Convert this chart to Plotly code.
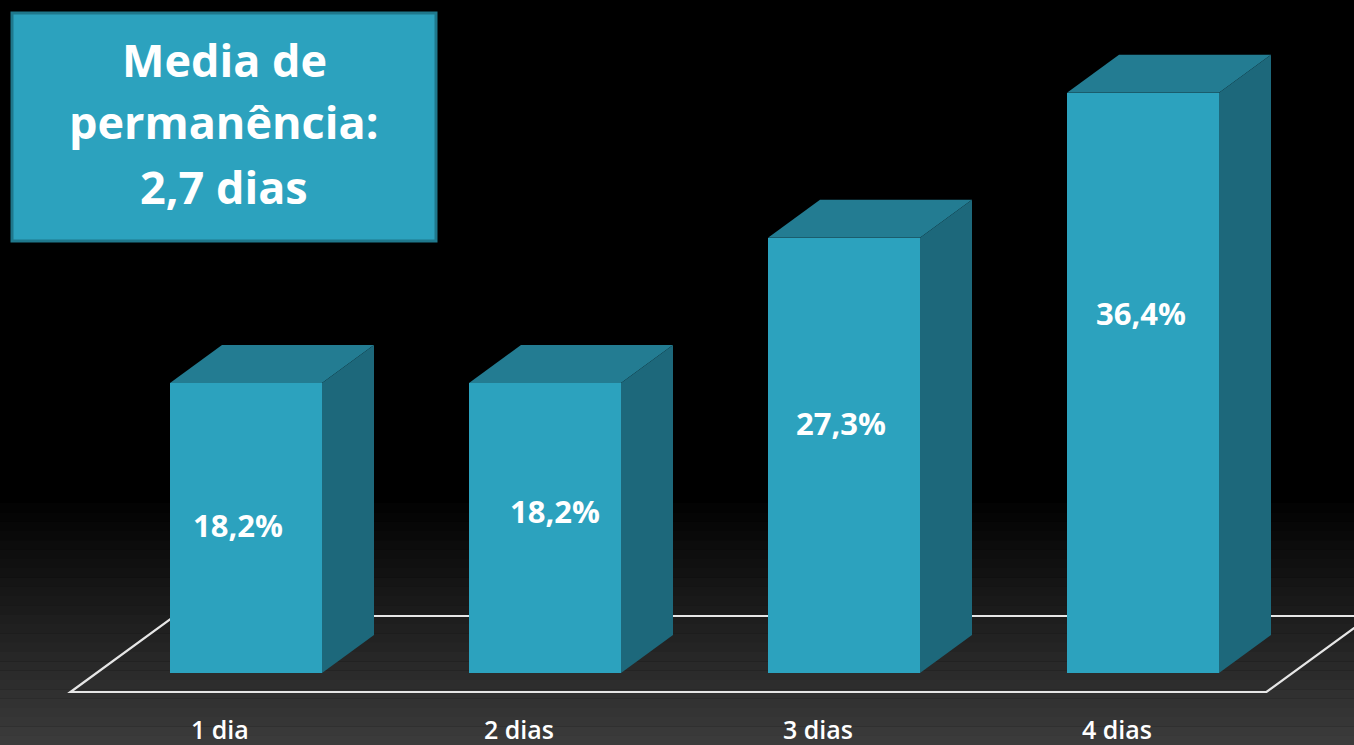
import plotly.graph_objects as go
import numpy as np

# ---- data ----
categories = ["1 dia", "2 dias", "3 dias", "4 dias"]
values = [18.2, 18.2, 27.3, 36.4]
title_lines = ["Media de", "permanência:", "2,7 dias"]

# ---- layout constants (styles / positions) ----
W, H = 1354, 745
PX_PER_UNIT_X = 299.0
PX_PER_PCT = 15.94
X0_PX = 246.0   # pixel of first bar centre
Y0_PX = 673.0   # pixel of baseline
BAR_W = 152 / PX_PER_UNIT_X
DX = 52 / PX_PER_UNIT_X
DY = 38 / PX_PER_PCT

FRONT = "#2CA2BE"
TOP = "#237C92"
SIDE = "#1D687B"
BORDER = "#1F788C"
FONT = "Open Sans"

label_y_frac = [0.51, 0.56, 0.575, 0.62]     # where value labels sit within each bar
label_dx = [-0.027, 0.033, -0.01, -0.007]
title_line_px = [60, 122, 187]               # vertical centres of the title lines

xr = [-X0_PX / PX_PER_UNIT_X, (W - X0_PX) / PX_PER_UNIT_X]
yr = [-(H - Y0_PX) / PX_PER_PCT, Y0_PX / PX_PER_PCT]

idx = list(range(len(categories)))
n = len(categories)
fig = go.Figure()

shapes = []
# background gradient (black -> dark grey towards bottom), drawn below traces
steps = 80
for k in range(steps):
    p0 = k * H / steps
    p1 = (k + 1) * H / steps
    pm = (p0 + p1) / 2
    g = int(round(np.clip((pm - 497) / (H - 497), 0, 1) * 60))
    shapes.append(dict(type="rect", xref="paper", yref="paper",
                       x0=0, x1=1, y0=1 - p1 / H - 0.0005, y1=1 - p0 / H,
                       fillcolor=f"rgb({g},{g},{g})", line=dict(width=0), layer="below"))

# floor outline (below the bars)
fx = [-0.5 - 0.5 * DX, n - 0.5 - 0.5 * DX, n - 0.5 + 1.5 * DX, -0.5 + 1.5 * DX]
fy = [-0.5 * DY, -0.5 * DY, 1.5 * DY, 1.5 * DY]
path = "M " + " L ".join(f"{a},{b}" for a, b in zip(fx, fy)) + " Z"
shapes.append(dict(type="path", xref="x", yref="y", path=path,
                   line=dict(color="#E6E6E6", width=2.2), fillcolor="rgba(0,0,0,0)",
                   layer="below"))

# bar fronts
fig.add_trace(go.Bar(x=idx, y=values, width=BAR_W,
                     marker=dict(color=FRONT, line=dict(width=0)),
                     hoverinfo="skip", showlegend=False))

# tops and sides
for i, v in zip(idx, values):
    l, r = i - BAR_W / 2, i + BAR_W / 2
    fig.add_trace(go.Scatter(
        x=[l, r, r + DX, l + DX, l], y=[v, v, v + DY, v + DY, v],
        fill="toself", fillcolor=TOP, mode="lines", line=dict(width=0, color=TOP),
        hoverinfo="skip", showlegend=False))
    fig.add_trace(go.Scatter(
        x=[r, r + DX, r + DX, r, r], y=[0, DY, v + DY, v, 0],
        fill="toself", fillcolor=SIDE, mode="lines", line=dict(width=0, color=SIDE),
        hoverinfo="skip", showlegend=False))

# title box
shapes.append(dict(type="rect", xref="paper", yref="paper",
                   x0=12 / W, x1=436 / W, y0=1 - 241 / H, y1=1 - 13 / H,
                   fillcolor=FRONT, line=dict(color=BORDER, width=3), layer="above"))

annotations = []
# value labels
for i, v, f, d in zip(idx, values, label_y_frac, label_dx):
    annotations.append(dict(
        x=i + d, y=v * f, xref="x", yref="y",
        text=f"{v:.1f}%".replace(".", ","), showarrow=False,
        xanchor="center", yanchor="middle",
        font=dict(family=FONT, size=31, color="white", weight="bold")))
# category labels
for i, c in zip(idx, categories):
    annotations.append(dict(
        x=i - 0.5 * DX, y=-(729 - Y0_PX) / PX_PER_PCT, xref="x", yref="y",
        text=c, showarrow=False, xanchor="center", yanchor="middle",
        font=dict(family=FONT, size=25, color="white", weight=600)))
# title box text
for line, py in zip(title_lines, title_line_px):
    annotations.append(dict(
        x=224 / W, y=1 - py / H, xref="paper", yref="paper",
        text=line, showarrow=False, xanchor="center", yanchor="middle",
        font=dict(family=FONT, size=45, color="white", weight="bold")))

fig.update_layout(
    width=W, height=H, margin=dict(l=0, r=0, t=0, b=0),
    paper_bgcolor="black", plot_bgcolor="rgba(0,0,0,0)",
    xaxis=dict(range=xr, visible=False, fixedrange=True),
    yaxis=dict(range=yr, visible=False, fixedrange=True),
    showlegend=False, bargap=0,
    annotations=annotations, shapes=shapes,
)
fig.write_html("out.html", config={"displayModeBar": False},
               post_script="document.body.style.margin='0';document.body.style.overflow='hidden';")
